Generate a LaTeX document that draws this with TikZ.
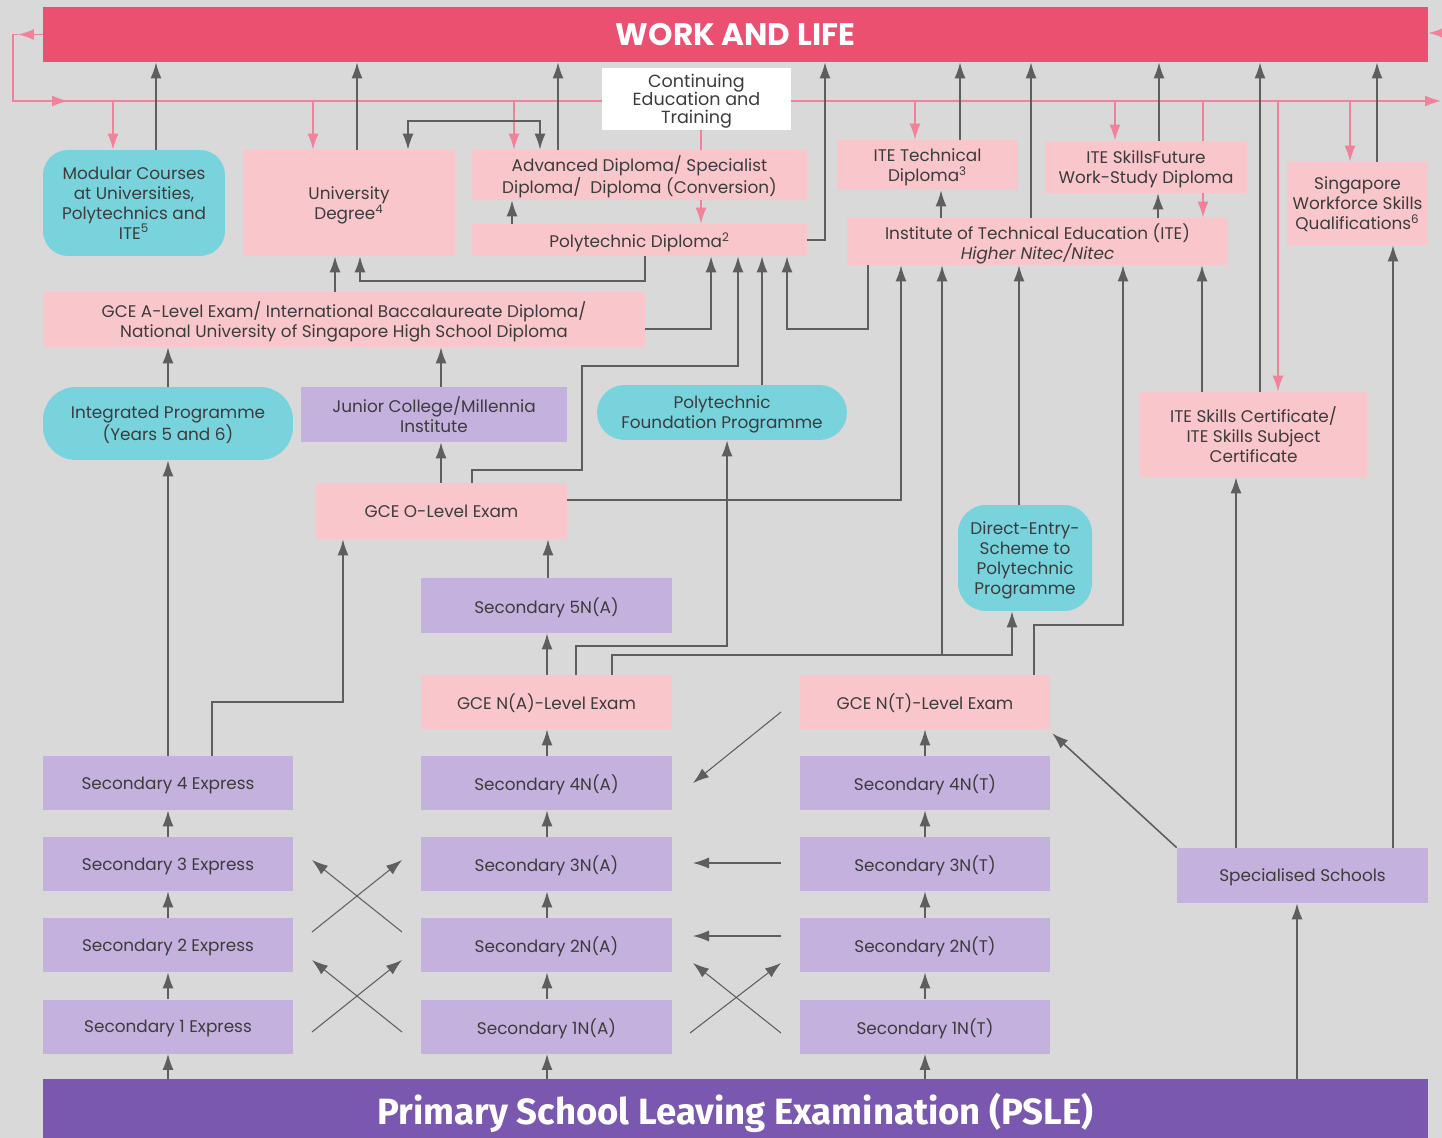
\documentclass[tikz,border=0pt]{standalone}
\usepackage{fontspec}
\setmainfont{Poppins}
\newfontfamily\pslefont{Fira Sans}
\usetikzlibrary{arrows.meta,calc}

\definecolor{bggray}{HTML}{D9D9D9}
\definecolor{wlred}{HTML}{EC5070}
\definecolor{pslepurple}{HTML}{7A58B0}
\definecolor{boxpink}{HTML}{F9C6CB}
\definecolor{boxpurple}{HTML}{C4B1DE}
\definecolor{boxcyan}{HTML}{79D3DD}
\definecolor{lngray}{HTML}{5E5E5E}
\definecolor{lnpink}{HTML}{F2819A}
\definecolor{txtgray}{HTML}{3C3C3C}

\tikzset{
  sz/.style 2 args={minimum width=#1cm, minimum height=#2cm},
  blk/.style={inner sep=0pt, text depth=0pt, align=center, text=txtgray, font=\fontsize{9.6}{11.4}\selectfont},
  pk/.style={blk, fill=boxpink},
  pu/.style={blk, fill=boxpurple},
  cy/.style={blk, fill=boxcyan, rounded corners=#1},
  cy/.default=0.5cm,
  gline/.style={draw=lngray, line width=0.9pt},
  garrow/.style={gline, -{Latex[length=3.2mm,width=2.2mm]}},
  gboth/.style={gline, {Latex[length=3.2mm,width=2.2mm]}-{Latex[length=3.2mm,width=2.2mm]}},
  pline/.style={draw=lnpink, line width=0.9pt},
  parrow/.style={pline, -{Latex[length=3.2mm,width=2.2mm]}},
}

\begin{document}
\begin{tikzpicture}[x=0.02cm, y=-0.02cm]
\fill[bggray] (0,0) rectangle (1442,1138);
\useasboundingbox (0,0) rectangle (1442,1138);

% top and bottom bars
\node[fill=wlred, sz={27.7}{1.1}, text depth=0pt, text=white, font=\fontsize{17.7}{20}\bfseries\selectfont] (wl) at (735.5,34.5) {WORK AND LIFE};
\node[fill=pslepurple, sz={27.7}{1.18}, text depth=0pt, text=white, font=\pslefont\bfseries\fontsize{20.8}{22}\selectfont] (psle) at (735.5,1108.5) {Primary School Leaving Examination (PSLE)};
\coordinate (bus) at (0,101);

% post-secondary
\node[blk, fill=white, sz={3.78}{1.24}, font=\fontsize{10}{10.4}\selectfont] (cet) at (696.5,99) {Continuing\\Education and\\Training};
\node[cy, sz={3.64}{2.12}] (mod) at (134,203) {Modular Courses\\at Universities,\\Polytechnics and\\ITE\textsuperscript{5}};
\node[pk, sz={4.24}{2.12}] (uni) at (349,203) {University\\Degree\textsuperscript{4}};
\node[pk, sz={6.7}{1.0}] (adv) at (639.5,175) {Advanced Diploma/ Specialist\\Diploma/\ \ Diploma (Conversion)};
\node[pk, sz={6.7}{0.64}] (poly) at (639.5,240) {Polytechnic Diploma\textsuperscript{2}};
\node[pk, sz={3.62}{1.0}] (itetd) at (927.5,165) {ITE Technical\\Diploma\textsuperscript{3}};
\node[pk, sz={4.04}{1.04}] (sfwsd) at (1146,167) {ITE SkillsFuture\\Work-Study Diploma};
\node[pk, sz={7.62}{0.94}] (ite) at (1037.5,241.5) {Institute of Technical Education (ITE)\\\textit{Higher Nitec/Nitec}};
\node[pk, sz={2.82}{1.66}] (wsq) at (1357.5,203.5) {Singapore\\Workforce Skills\\Qualifications\textsuperscript{6}};
\node[pk, sz={12.04}{1.1}] (alevel) at (344,319.5) {GCE A-Level Exam/ International Baccalaureate Diploma/\\National University of Singapore High School Diploma};
\node[cy=0.66cm, sz={5.0}{1.46}] (ip) at (168,423.5) {Integrated Programme\\(Years 5 and 6)};
\node[pu, sz={5.32}{1.1}] (jc) at (434,414.5) {Junior College/Millennia\\Institute};
\node[cy=0.55cm, sz={5.0}{1.1}] (pfp) at (722,412.5) {Polytechnic\\Foundation Programme};
\node[pk, sz={5.02}{1.12}] (olevel) at (441.5,511) {GCE O-Level Exam};
\node[pk, sz={4.54}{1.7}] (itesc) at (1253.5,434.5) {ITE Skills Certificate/\\ITE Skills Subject\\Certificate};
\node[cy=0.56cm, sz={2.68}{2.12}] (dss) at (1025,558) {Direct-Entry-\\Scheme to\\Polytechnic\\Programme};

% secondary
\node[pu, sz={5.02}{1.1}] (s5na) at (546.5,605.5) {Secondary 5N(A)};
\node[pk, sz={5.02}{1.08}] (nalevel) at (546.5,702) {GCE N(A)-Level Exam};
\node[pk, sz={5.0}{1.08}] (ntlevel) at (925,702) {GCE N(T)-Level Exam};
\foreach \n/\y in {1/1026.5,2/945,3/864,4/783}{
  \node[pu, sz={5.0}{1.08}] (s\n e) at (168,\y) {Secondary \n\ Express};
  \node[pu, sz={5.02}{1.08}] (s\n na) at (546.5,\y) {Secondary \n N(A)};
  \node[pu, sz={5.0}{1.08}] (s\n nt) at (925,\y) {Secondary \n N(T)};
}
\node[pu, sz={5.02}{1.1}] (spec) at (1302.5,875.5) {Specialised Schools};

% continuing education loop
\draw[parrow] (wl.west) -- (18,34.5);
\draw[pline] (18,34.5) -- (13,34.5) |- (cet.west |- bus);
\draw[parrow] (13,101) -- (68,101);
\draw[parrow] (cet.east |- bus) -- (1441,101);
\draw[parrow] (1442,33) -- (wl.east |- 0,33);
\foreach \x/\n in {113/mod,313/uni,514/adv,915/itetd,1115/sfwsd,1278/itesc,1350/wsq}
  \draw[parrow] (\x,0 |- bus) -- (\x,0 |- \n.north);
\draw[pline] (1203,0 |- bus) -- (1203,0 |- sfwsd.north);
\draw[parrow] (1203,0 |- sfwsd.south) -- (1203,0 |- ite.north);
\draw[pline] (701,0 |- cet.south) -- (701,0 |- adv.north);
\draw[parrow] (701,0 |- adv.south) -- (701,0 |- poly.north);

% into work and life
\foreach \x/\n in {156/mod,357/uni,558/adv,960/itetd,1031/ite,1159/sfwsd,1260/itesc,1377/wsq}
  \draw[garrow] (\x,0 |- \n.north) -- (\x,0 |- wl.south);
\draw[garrow] (poly.east) -| (825,0 |- wl.south);

% between post-secondary routes
\draw[gboth] (408,0 |- uni.north) -- (408,121) -| (540,0 |- adv.north);
\draw[garrow] (512,0 |- poly.north) -- (512,0 |- adv.south);
\draw[garrow] (645,0 |- poly.south) -- (645,281) -| (360,0 |- uni.south);
\draw[garrow] (335,0 |- alevel.north) -- (335,0 |- uni.south);
\draw[garrow] (alevel.east |- 0,329) -| (711,0 |- poly.south);
\draw[garrow] (472,0 |- olevel.north) |- (582,470) |- (738,366) -- (738,0 |- poly.south);
\draw[garrow] (762,0 |- pfp.north) -- (762,0 |- poly.south);
\draw[garrow] (868,0 |- ite.south) |- (787,329) -- (787,0 |- poly.south);
\draw[garrow] (941,0 |- ite.north) -- (941,0 |- itetd.south);
\draw[garrow] (1158,0 |- ite.north) -- (1158,0 |- sfwsd.south);
\draw[garrow] (168,0 |- ip.north) -- (168,0 |- alevel.south);
\draw[garrow] (441,0 |- jc.north) -- (441,0 |- alevel.south);
\draw[garrow] (441,0 |- olevel.north) -- (441,0 |- jc.south);
\draw[garrow] (olevel.east |- 0,500) -| (901,0 |- ite.south);
\draw[garrow] (548,0 |- s5na.north) -- (548,0 |- olevel.south);
\draw[garrow] (547,0 |- nalevel.north) -- (547,0 |- s5na.south);
\draw[garrow] (576,0 |- nalevel.north) |- (727,646) -- (727,0 |- pfp.south);
\draw[garrow] (612,0 |- nalevel.north) |- (1012,655) -- (1012,0 |- dss.south);
\coordinate (najoin) at (942,655);
\draw[garrow] (najoin) -- (942,0 |- ite.south);
\draw[garrow] (1019,0 |- dss.north) -- (1019,0 |- ite.south);
\draw[garrow] (1034,0 |- ntlevel.north) |- (1123,625) -- (1123,0 |- ite.south);
\draw[garrow] (1202,0 |- itesc.north) -- (1202,0 |- ite.south);
\draw[garrow] (1236,0 |- spec.north) -- (1236,0 |- itesc.south);
\draw[garrow] (1393,0 |- spec.north) -- (1393,0 |- wsq.south);
\draw[garrow] (1297,0 |- psle.north) -- (1297,0 |- spec.south);
\draw[garrow] (spec.north west) -- ($(ntlevel.south east)+(2,4)$);
\draw[garrow] (168,0 |- s4e.north) -- (168,0 |- ip.south);
\draw[garrow] (212,0 |- s4e.north) |- (343,702) -- (343,0 |- olevel.south);

% up the secondary years
\foreach \c/\x in {e/168,na/547,nt/925}{
  \draw[garrow] (\x,0 |- psle.north) -- (\x,0 |- s1\c.south);
  \draw[garrow] (\x,0 |- s1\c.north) -- (\x,0 |- s2\c.south);
  \draw[garrow] (\x,0 |- s2\c.north) -- (\x,0 |- s3\c.south);
  \draw[garrow] (\x,0 |- s3\c.north) -- (\x,0 |- s4\c.south);
}
\draw[garrow] (547,0 |- s4na.north) -- (547,0 |- nalevel.south);
\draw[garrow] (925,0 |- s4nt.north) -- (925,0 |- ntlevel.south);

% lateral transfers
\foreach \a/\b in {{312,932}/{402,860},{402,932}/{312,860},{312,1032}/{402,960},{402,1032}/{312,960},
                   {690,1033}/{781,963},{781,1033}/{693,963},{781,863}/{693,863},{781,936}/{693,936},{781,712}/{693,783}}
  \draw[garrow, line width=0.6pt] (\a) -- (\b);

\end{tikzpicture}
\end{document}
